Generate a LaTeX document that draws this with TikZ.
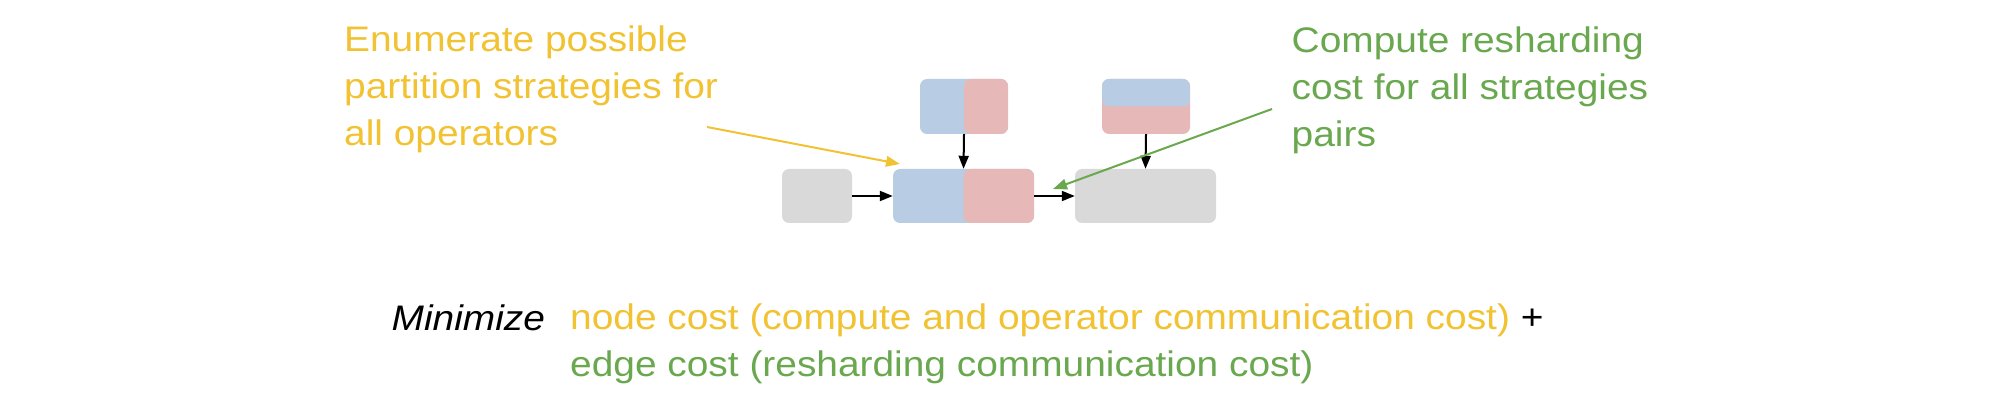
\documentclass[tikz,border=0pt]{standalone}
\usepackage{fontspec}
\setmainfont{Liberation Sans}[FakeStretch=1.095]
\usetikzlibrary{arrows.meta}
\definecolor{ylw}{HTML}{F1C232}
\definecolor{grn}{HTML}{6AA84F}
\definecolor{bluec}{HTML}{B8CCE4}
\definecolor{redc}{HTML}{E6B8B7}
\definecolor{grayc}{HTML}{D9D9D9}
\begin{document}
\begin{tikzpicture}[x=1pt,y=1pt,
  box/.style={inner sep=0pt, rounded corners=7pt},
  vsplit/.style={fill=bluec, path picture={\fill[redc] (path picture bounding box.north) rectangle (path picture bounding box.south east);}},
  hsplit/.style={fill=redc, path picture={\fill[bluec] (path picture bounding box.north west) rectangle (path picture bounding box.east);}},
  blk/.style={-{Triangle[length=13pt,width=10pt]}, line width=2pt, black},
  note/.style={-{Triangle[length=14pt,width=10.5pt]}, line width=2pt},
  txt/.style={inner sep=0pt, align=left, font=\fontsize{35.5}{47}\selectfont}
]
\useasboundingbox (0,0) rectangle (1999,402);
% boxes
\node[box, fill=grayc, minimum width=70pt, minimum height=54pt] (gl) at (817,206) {};
\node[box, vsplit, minimum width=141pt, minimum height=54pt] (op) at (963.5,206) {};
\node[box, vsplit, minimum width=88pt, minimum height=55pt] (tc) at (964,295.5) {};
\node[box, hsplit, minimum width=88pt, minimum height=55pt] (tr) at (1146,295.5) {};
\node[box, fill=grayc, minimum width=141pt, minimum height=54pt] (gr) at (1145.5,206) {};
% black arrows
\draw[blk] (gl.east) -- (op.west);
\draw[blk] (op.east) -- (gr.west);
\draw[blk] (tc.south) -- (op.north);
\draw[blk] (tr.south) -- (gr.north);
% annotations
\node[txt, text=ylw, anchor=base west] (yt) at (344,256) {Enumerate possible\\partition strategies for\\all operators};
\node[txt, text=grn, anchor=base west] (gt) at (1291.5,255) {Compute resharding\\cost for all strategies\\pairs};
\coordinate (ys) at (707,275);
\coordinate (ye) at (900,238);
\coordinate (gs) at (1272,293);
\coordinate (ge) at (1053,213);
\draw[note, ylw] (ys) -- (ye);
\draw[note, grn] (gs) -- (ge);
% objective
\node[txt, anchor=base west] (mn) at (391.5,72) {\itshape Minimize};
\node[txt, anchor=base west] (obj) at (570,25.3) {\textcolor{ylw}{node cost (compute and operator communication cost)} +\\\textcolor{grn}{edge cost (resharding communication cost)}};
\end{tikzpicture}
\end{document}
